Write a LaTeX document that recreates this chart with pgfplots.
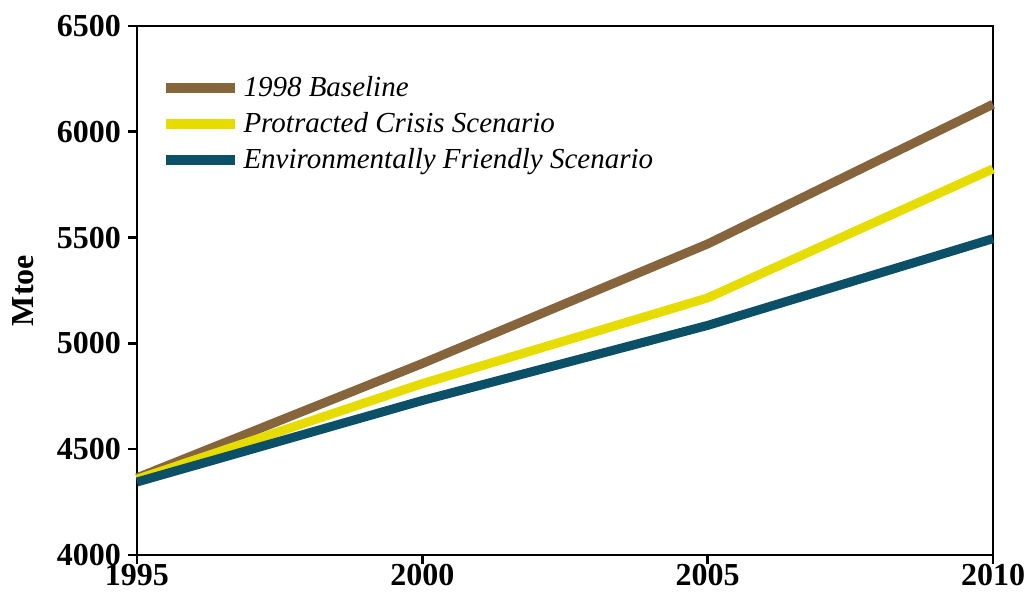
\documentclass[border=0pt]{standalone}
\usepackage{fontspec}
\setmainfont{Liberation Serif}
\usepackage{pgfplots}
\pgfplotsset{compat=1.18}
\definecolor{cbrown}{RGB}{134,100,60}
\definecolor{cyellow}{RGB}{230,220,0}
\definecolor{cteal}{RGB}{12,80,104}
\begin{document}
\begin{tikzpicture}
\begin{axis}[
  scale only axis,
  width=428pt, height=264.5pt,
  xmin=1995, xmax=2010, ymin=4000, ymax=6500,
  xtick={1995,2000,2005,2010},
  ytick={4000,4500,5000,5500,6000,6500},
  axis line style={line width=1.3pt},
  every tick/.style={line width=1.3pt, black},
  tick align=outside, tick pos=left,
  major tick length=4.5pt,
  tick label style={font=\bfseries\fontsize{16}{16}\selectfont},
  xticklabel style={yshift=3.5pt},
  /pgf/number format/assume math mode=true,
  /pgf/number format/1000 sep={},
  ylabel={Mtoe},
  ylabel style={font=\bfseries\fontsize{16}{16}\selectfont, at={(axis description cs:0,0.5)}, anchor=center, yshift=57pt},
  legend style={draw=none, fill=none, at={(axis description cs:0.02,0.921)}, anchor=north west,
    font=\itshape\fontsize{14.5}{14.5}\selectfont, row sep=2.5pt},
  legend cell align=left,
  legend image code/.code={\draw[line width=5pt] (0pt,0pt) -- (34.5pt,0pt);},
  clip=false,
]
\addplot[cbrown, line width=4.5pt] coordinates {(1995,4365) (2000,4905) (2005,5470) (2010,6130)};
\addlegendentry{1998 Baseline}
\addplot[cyellow, line width=4.5pt] coordinates {(1995,4358) (2000,4810) (2005,5215) (2010,5825)};
\addlegendentry{Protracted Crisis Scenario}
\addplot[cteal, line width=4.5pt] coordinates {(1995,4345) (2000,4730) (2005,5085) (2010,5495)};
\addlegendentry{Environmentally Friendly Scenario}
\coordinate (sw) at (rel axis cs:0,0);
\end{axis}
\pgfresetboundingbox
\path ([shift={(-68.5pt,-18.5pt)}]sw) rectangle ([shift={(443.5pt,277.5pt)}]sw);
\end{tikzpicture}
\end{document}
